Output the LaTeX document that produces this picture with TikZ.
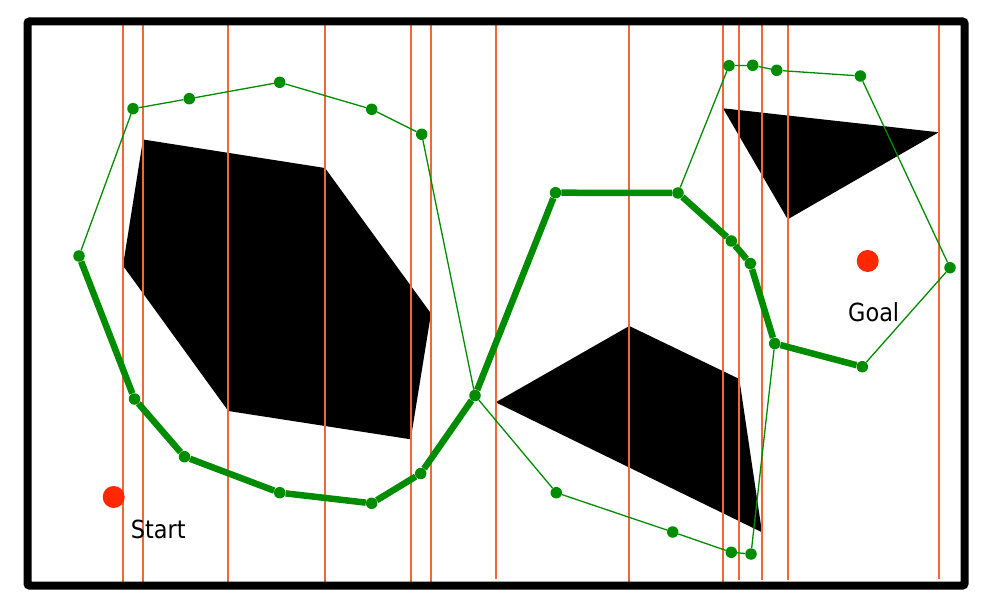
\documentclass[tikz,border=0pt]{standalone}
\usepackage{fontspec}
\setmainfont{DejaVu Sans Condensed}
\usepackage{tikz}

\definecolor{cellline}{RGB}{238,105,55}
\definecolor{roadgreen}{RGB}{0,140,0}
\definecolor{markred}{RGB}{255,40,0}

\begin{document}
\begin{tikzpicture}[x=1bp,y=-1bp]
    \tikzstyle{wp}=[circle,fill=roadgreen,inner sep=0pt,minimum size=11.5bp]
    \tikzstyle{spot}=[circle,fill=markred,inner sep=0pt,minimum size=22bp]
    \tikzstyle{roadmap}=[draw=roadgreen,line width=1.3bp]
    \tikzstyle{route}=[draw=roadgreen,line width=6.5bp]
    \tikzstyle{cell}=[draw=cellline,line width=1.8bp]
    \tikzstyle{caption}=[anchor=base,font=\fontsize{25}{30}\selectfont]
    \useasboundingbox (0,0) rectangle (982,604);
    \fill[black] (143,139.5) -- (325,168) -- (431,313.5) -- (410.7,439.3) -- (228.3,411) -- (123,265.7) -- cycle;
    \fill[black] (495.7,402.3) -- (629.3,326) -- (739.3,379) -- (762,532.3) -- cycle;
    \fill[black] (723,108.3) -- (938.7,132.3) -- (787.7,219.3) -- cycle;
    \draw[cell] (123,24) -- (123,582);
    \draw[cell] (143,24) -- (143,582);
    \draw[cell] (228,24) -- (228,582);
    \draw[cell] (325,24) -- (325,582);
    \draw[cell] (411,24) -- (411,582);
    \draw[cell] (431,24) -- (431,582);
    \draw[cell] (496,24) -- (496,579);
    \draw[cell] (629,24) -- (629,582);
    \draw[cell] (723,24) -- (723,582);
    \draw[cell] (739,24) -- (739,580);
    \draw[cell] (762,24) -- (762,580);
    \draw[cell] (788,24) -- (788,580);
    \draw[cell] (939,24) -- (939,579);
    \node (a1) at (79,256) [wp] {};
    \node (a2) at (133,108.7) [wp] {};
    \node (a3) at (189.3,98.7) [wp] {};
    \node (a4) at (279.7,82.3) [wp] {};
    \node (a5) at (371.7,109.3) [wp] {};
    \node (a6) at (421.7,134.3) [wp] {};
    \node (mid) at (475,395.5) [wp] {};
    \node (b1) at (134.5,399) [wp] {};
    \node (b2) at (184.5,456.7) [wp] {};
    \node (b3) at (279.7,492.7) [wp] {};
    \node (b4) at (371.7,503.3) [wp] {};
    \node (b5) at (420.7,473.5) [wp] {};
    \node (c1) at (555.5,192.7) [wp] {};
    \node (c2) at (678,193) [wp] {};
    \node (c3) at (731.3,241) [wp] {};
    \node (c4) at (750.3,263.5) [wp] {};
    \node (c5) at (774.7,343.5) [wp] {};
    \node (c6) at (862.3,366.7) [wp] {};
    \node (d1) at (729,65.7) [wp] {};
    \node (d2) at (752.7,65.3) [wp] {};
    \node (d3) at (776.7,70.3) [wp] {};
    \node (d4) at (860.3,76) [wp] {};
    \node (d5) at (950,267.7) [wp] {};
    \node (e1) at (556.3,492.7) [wp] {};
    \node (e2) at (672.7,532) [wp] {};
    \node (e3) at (731.3,552.3) [wp] {};
    \node (e4) at (751,554) [wp] {};
    \draw [roadmap] (a1) -- (a2);
    \draw [roadmap] (a2) -- (a3);
    \draw [roadmap] (a3) -- (a4);
    \draw [roadmap] (a4) -- (a5);
    \draw [roadmap] (a5) -- (a6);
    \draw [roadmap] (a6) -- (mid);
    \draw [roadmap] (c2) -- (d1);
    \draw [roadmap] (d1) -- (d2);
    \draw [roadmap] (d2) -- (d3);
    \draw [roadmap] (d3) -- (d4);
    \draw [roadmap] (d4) -- (d5);
    \draw [roadmap] (d5) -- (c6);
    \draw [roadmap] (mid) -- (e1);
    \draw [roadmap] (e1) -- (e2);
    \draw [roadmap] (e2) -- (e3);
    \draw [roadmap] (e3) -- (e4);
    \draw [roadmap] (e4) -- (c5);
    \draw [route] (a1) -- (b1);
    \draw [route] (b1) -- (b2);
    \draw [route] (b2) -- (b3);
    \draw [route] (b3) -- (b4);
    \draw [route] (b4) -- (b5);
    \draw [route] (b5) -- (mid);
    \draw [route] (mid) -- (c1);
    \draw [route] (c1) -- (c2);
    \draw [route] (c2) -- (c3);
    \draw [route] (c3) -- (c4);
    \draw [route] (c4) -- (c5);
    \draw [route] (c5) -- (c6);
    \node (start) at (113.7,497) [spot] {};
    \node (goal) at (867.7,261) [spot] {};
    \node (startlbl) at (158.3,538) [caption] {Start};
    \node (goallbl) at (873.7,321) [caption] {Goal};
    \draw [line width=8bp,rounded corners=2bp] (27.5,21.5) rectangle (964.5,585.5);
\end{tikzpicture}
\end{document}
